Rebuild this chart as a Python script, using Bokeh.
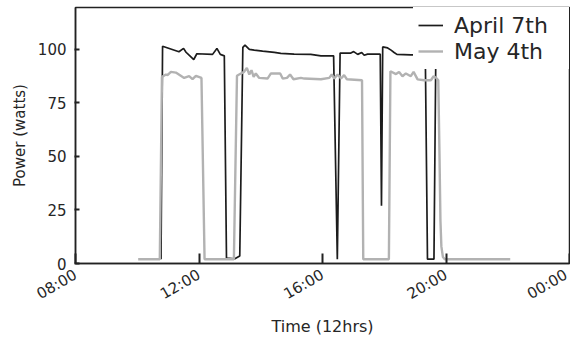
import math
from bokeh.plotting import figure
from bokeh.models import FixedTicker, Legend, LegendItem, Range1d
from bokeh.embed import file_html
from bokeh.resources import INLINE

# April 7th (hours of day, watts)
hours_apr = [10.77, 10.82, 11.35, 11.50, 11.58, 11.68, 11.83, 11.93, 12.44, 12.58, 12.69, 12.82,
             12.89, 13.16, 13.32, 13.42, 13.49, 13.63, 13.79, 14.06, 14.44, 14.65, 15.08, 15.62,
             15.95, 16.36, 16.48, 16.57, 16.92, 17.01, 17.14, 17.27, 17.35, 17.46, 17.87, 17.91,
             17.95, 18.11, 18.22, 18.32, 18.41, 18.86, 19.33, 19.40, 19.61, 19.67, 19.83]
watts_apr = [2, 101.5, 98.9, 100.5, 98.7, 97.3, 95.3, 98.0, 97.7, 100.5, 97.7, 97.0,
             2.5, 2.2, 3.5, 101, 102, 100, 99.7, 99.2, 98.6, 98.2, 97.8, 97.7,
             97.0, 97.0, 2, 98.3, 98.3, 99.0, 97.7, 98.6, 97.3, 97.8, 97.8, 27,
             101.2, 100.7, 99.7, 98.6, 97.7, 97.5, 97.5, 2, 2, 97.5, 97.5]

# May 4th (hours of day, watts)
hours_may = [10.03, 10.73, 10.80, 10.93, 10.98, 11.09, 11.25, 11.52, 11.68, 11.79, 11.90, 12.08,
             12.18, 13.13, 13.23, 13.30, 13.46, 13.55, 13.63, 13.70, 13.77, 13.84, 13.95, 14.22,
             14.33, 14.63, 14.71, 14.85, 14.95, 15.06, 15.30, 15.41, 15.95, 16.22, 16.30, 16.38,
             16.49, 16.60, 16.70, 16.79, 17.28, 17.32, 18.15, 18.20, 18.38, 18.48, 18.59, 18.70,
             18.86, 18.95, 19.08, 19.29, 19.51, 19.60, 19.67, 19.75, 19.79, 19.82, 19.85, 19.90,
             19.96, 22.08]
watts_may = [2, 2, 87.2, 88.3, 88.0, 89.5, 89.2, 86.7, 87.5, 86.1, 87.7, 86.7,
             2, 2, 87.7, 88.3, 89.5, 91.4, 88.3, 90.3, 87.2, 88.8, 86.7, 86.4,
             88.8, 88.8, 86.4, 86.7, 88.3, 86.1, 86.7, 86.4, 86.1, 86.7, 88.3, 86.4,
             88.3, 86.4, 88.0, 86.1, 85.6, 2, 2, 89.8, 88.5, 89.5, 87.5, 88.8,
             87.5, 89.5, 86.0, 85.6, 85.6, 87.5, 86.9, 85.6, 50, 20, 8, 3,
             2, 2]

tick_hours = [8, 12, 16, 20, 24]
tick_labels = ["08:00", "12:00", "16:00", "20:00", "00:00"]
y_ticks = [0, 25, 50, 75, 100]

FONT = "DejaVu Sans"
TXT = "#262626"

p = figure(width=570, height=338, output_backend="svg", toolbar_location=None,
           x_range=Range1d(8, 24), y_range=Range1d(0, 119.6),
           min_border_left=75, min_border_right=1, min_border_top=7, min_border_bottom=75)

r1 = p.line(hours_apr, watts_apr, line_color="#1c1c1c", line_width=1.7)
r2 = p.line(hours_may, watts_may, line_color="#b2b2b2", line_width=2.4)

legend = Legend(items=[LegendItem(label="April 7th", renderers=[r1]),
                       LegendItem(label="May 4th", renderers=[r2])],
                location="top_right", margin=0, padding=5, spacing=0,
                label_width=110, label_height=26, glyph_width=25, glyph_height=26,
                label_standoff=11, label_text_font=FONT, label_text_font_size="22px",
                label_text_color=TXT, border_line_alpha=0, background_fill_color="white",
                background_fill_alpha=1.0)
p.add_layout(legend)

p.xgrid.visible = False
p.ygrid.visible = False
p.outline_line_color = "#222222"
p.outline_line_width = 1.5

xa = p.xaxis[0]
xa.ticker = FixedTicker(ticks=tick_hours)
xa.major_label_overrides = {h: l for h, l in zip(tick_hours, tick_labels)}
xa.major_label_orientation = math.pi / 6
xa.major_tick_in = 10
xa.major_tick_out = 0
xa.minor_tick_line_color = None
xa.major_tick_line_width = 2
xa.axis_line_width = 1.5
xa.axis_line_color = "#222222"
xa.major_tick_line_color = "#222222"
xa.major_label_text_font = FONT
xa.major_label_text_font_size = "15px"
xa.major_label_text_color = TXT
xa.major_label_standoff = 10
xa.axis_label = "Time (12hrs)"
xa.axis_label_text_font = FONT
xa.axis_label_text_font_size = "16px"
xa.axis_label_text_font_style = "normal"
xa.axis_label_text_color = TXT
xa.axis_label_standoff = 3

ya = p.yaxis[0]
ya.ticker = FixedTicker(ticks=y_ticks)
ya.major_tick_in = 4
ya.major_tick_out = 1
ya.minor_tick_line_color = None
ya.major_tick_line_width = 2
ya.axis_line_width = 1.5
ya.axis_line_color = "#222222"
ya.major_tick_line_color = "#222222"
ya.major_label_text_font = FONT
ya.major_label_text_font_size = "15px"
ya.major_label_text_color = TXT
ya.major_label_standoff = 8
ya.axis_label = "Power (watts)"
ya.axis_label_text_font = FONT
ya.axis_label_text_font_size = "15px"
ya.axis_label_text_font_style = "normal"
ya.axis_label_text_color = TXT
ya.axis_label_standoff = 6

open("out.html", "w").write(file_html(p, INLINE))
